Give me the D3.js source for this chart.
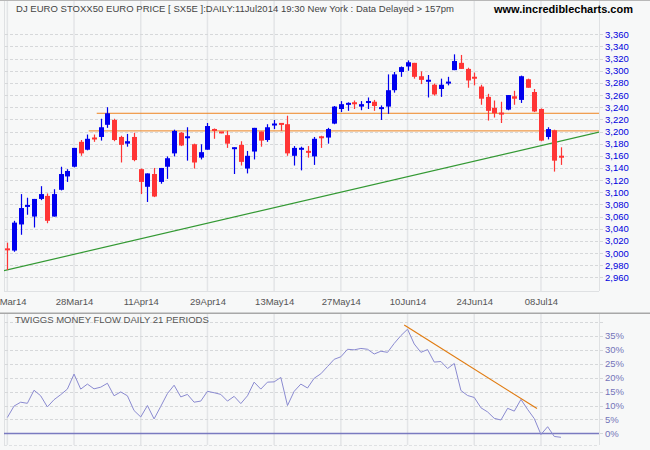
<!DOCTYPE html>
<html><head><meta charset="utf-8">
<script src="https://cdn.jsdelivr.net/npm/d3@7"></script>
<style>html,body{margin:0;padding:0;background:#f7f8f8;} svg{display:block;font-family:"Liberation Sans",Arial,sans-serif;}</style>
</head><body><svg id="c" width="650" height="450"></svg>
<script>
// ---- data ----
const dateLabels = ["14Mar14","28Mar14","11Apr14","29Apr14","13May14","27May14","10Jun14","24Jun14","08Jul14"];
const labelIdx = [0,10,20,30,40,50,60,70,80];
const priceTicks = d3.range(2960, 3361, 20);
const pctTicks = [0,5,10,15,20,25,30,35];
const pctGrid = [0,5,10,15,20,25,30,35,40];

const opens = [3007,3004,3047,3077,3060,3089,3094,3060,3104,3126,3142,3183,3170,3189,3191,3211,3219,3191,3180,3191,
3138,3109,3130,3117,3142,3164,3198,3190,3179,3157,3170,3203,3199,3194,3172,3178,3139,3167,3200,3186,
3211,3214,3212,3160,3171,3167,3159,3191,3190,3213,3237,3245,3247,3241,3248,3249,3238,3241,3268,3298,
3307,3313,3291,3283,3277,3270,3280,3301,3313,3303,3289,3274,3257,3239,3230,3236,3258,3252,3286,3265,
3237,3191,3202,3159];
const highs = [3017,3053,3097,3091,3089,3110,3098,3105,3142,3138,3173,3186,3195,3195,3221,3240,3221,3193,3196,3198,
3139,3131,3140,3140,3159,3203,3199,3207,3180,3179,3214,3205,3199,3201,3174,3184,3168,3206,3200,3212,
3219,3214,3226,3176,3175,3176,3191,3193,3206,3242,3250,3248,3251,3250,3256,3252,3243,3294,3298,3307,
3317,3313,3299,3293,3279,3287,3290,3327,3326,3305,3297,3277,3262,3251,3249,3260,3267,3292,3287,3270,
3238,3207,3203,3174];
const lows = [2972,3002,3030,3063,3042,3087,3049,3060,3103,3117,3141,3160,3169,3183,3185,3206,3184,3149,3175,3151,
3097,3084,3092,3114,3122,3159,3176,3152,3139,3154,3170,3188,3197,3173,3130,3144,3131,3154,3175,3183,
3204,3201,3160,3144,3136,3157,3145,3173,3180,3212,3232,3234,3237,3235,3237,3234,3219,3229,3264,3290,
3300,3287,3278,3256,3259,3257,3276,3301,3303,3272,3276,3244,3218,3223,3214,3235,3244,3247,3272,3232,
3184,3187,3134,3145];
const closes = [3005,3050,3074,3078,3089,3097,3053,3097,3130,3135,3173,3164,3188,3188,3207,3230,3186,3178,3184,3153,
3117,3131,3093,3140,3156,3201,3177,3191,3149,3166,3209,3202,3198,3180,3173,3150,3160,3206,3185,3207,
3212,3211,3164,3173,3172,3166,3188,3190,3204,3241,3245,3246,3246,3245,3249,3242,3239,3268,3294,3306,
3314,3290,3285,3284,3261,3277,3281,3316,3303,3284,3288,3254,3234,3230,3229,3260,3254,3291,3272,3233,
3185,3204,3152,3158];
const moneyFlow = [5.7,9.8,11.2,10.8,15.5,13.5,9.5,12.1,13.9,15.9,21.3,15.9,17.7,16,16.6,18,13.5,14.9,13.5,8.2,
5.9,10,5.2,9.7,14.3,17.3,13.1,14,11.2,11.6,15.1,14.6,14,11.6,13.3,10.7,13.5,18.4,15.9,18.4,
18.5,20.1,10,15.1,17.7,16.3,19.8,21.4,24,26.6,27.5,30.2,30,30.5,30.2,28.5,29.5,29.1,32.3,35.1,
37.4,32.1,29.1,30.1,25.6,25.8,23.3,25.1,15.4,13.6,12.9,9.2,7.7,5.4,4.8,9,8,12.2,8.6,5.3,
-0.4,2.4,-1.1,-1.4];
// annotation lines (data space)
const trendLine = [[-0.5, 2971], [88.7, 3199]];
const resistHigh = [[13.4, 3230], [88.7, 3230]];
const resistLow = [[12.2, 3201], [88.7, 3201]];
const mfTrend = [[59.5, 38.9], [79.4, 8.9]];

// ---- layout ----
const W = 650, H = 450;
const L = 4, R = 599;
const mainTop = 1, mainBot = 291;
const lowTop = 313.3, lowBot = 445;
const svg = d3.select("#c");
svg.append("rect").attr("width", W).attr("height", H).attr("fill", "#f7f8f8");

const x = d3.scaleLinear().domain([-0.5, 88.7]).range([L, R]);
const y = d3.scaleLinear().domain([2960, 3360]).range([277.3, 34.3]);
const y2 = d3.scaleLinear().domain([0, 35]).range([433.4, 335.9]);

// vertical gridlines
const vg = svg.append("g");
labelIdx.forEach(i => {
  vg.append("line").attr("x1", x(i)).attr("x2", x(i)).attr("y1", mainTop).attr("y2", mainBot)
    .attr("stroke", "#e3e5e7").attr("stroke-width", 1.5);
  vg.append("line").attr("x1", x(i)).attr("x2", x(i)).attr("y1", lowTop).attr("y2", lowBot)
    .attr("stroke", "#e3e5e7").attr("stroke-width", 1.5);
});
// borders
const bd = svg.append("g").attr("stroke", "#dfe1e3").attr("stroke-width", 1);
bd.append("line").attr("x1", L + 0.5).attr("x2", L + 0.5).attr("y1", mainTop).attr("y2", mainBot);
bd.append("line").attr("x1", R + 0.5).attr("x2", R + 0.5).attr("y1", mainTop).attr("y2", mainBot);
bd.append("line").attr("x1", L).attr("x2", R).attr("y1", mainBot + 0.5).attr("y2", mainBot + 0.5);
bd.append("line").attr("x1", L + 0.5).attr("x2", L + 0.5).attr("y1", lowTop).attr("y2", lowBot);
bd.append("line").attr("x1", R + 0.5).attr("x2", R + 0.5).attr("y1", lowTop).attr("y2", lowBot);
bd.append("line").attr("x1", L).attr("x2", R).attr("y1", lowBot + 0.5).attr("y2", lowBot + 0.5)
  .attr("stroke-dasharray", "3,2");
svg.append("line").attr("x1", 0).attr("x2", W).attr("y1", 0.5).attr("y2", 0.5).attr("stroke", "#b8b8b8");
svg.append("line").attr("x1", 0).attr("x2", W).attr("y1", lowTop).attr("y2", lowTop)
  .attr("stroke", "#a8a8a8").attr("stroke-width", 1.5);

// price axis (right) with gridlines
const yAxis = d3.axisRight(y).tickValues(priceTicks).tickFormat(d3.format(",")).tickSize(-(603 - L)).tickPadding(2);
const ya = svg.append("g").attr("transform", "translate(603,0)").call(yAxis);
ya.select(".domain").remove();
ya.selectAll("line").attr("stroke", "#d6d8da").attr("stroke-dasharray", "3,2").attr("shape-rendering", "crispEdges");
ya.selectAll("text").attr("fill", "#0000dd").attr("font-size", "9.5px")
  .attr("font-family", "'Liberation Sans',Arial,sans-serif");

// date axis
const xAxis = d3.axisBottom(x).tickValues(labelIdx).tickFormat((d, i) => dateLabels[i]).tickSize(0).tickPadding(7);
const xa = svg.append("g").attr("transform", `translate(0,${mainBot})`).call(xAxis);
xa.select(".domain").remove();
xa.selectAll("text").attr("fill", "#555").attr("font-size", "9.5px")
  .attr("font-family", "'Liberation Sans',Arial,sans-serif");

// percent axis
const y2Axis = d3.axisRight(y2).tickValues(pctGrid).tickFormat(d => d === 40 ? "" : d + "%").tickSize(-(603 - L)).tickPadding(2);
const pa = svg.append("g").attr("transform", "translate(603,0)").call(y2Axis);
pa.select(".domain").remove();
pa.selectAll("line").attr("stroke", "#d6d8da").attr("stroke-dasharray", "3,2").attr("shape-rendering", "crispEdges");
pa.selectAll("text").attr("fill", "#7474b8").attr("font-size", "9.5px")
  .attr("font-family", "'Liberation Sans',Arial,sans-serif");

// clip for main
svg.append("clipPath").attr("id", "clipMain").append("rect").attr("x", L).attr("y", mainTop).attr("width", R - L).attr("height", mainBot - mainTop);
svg.append("clipPath").attr("id", "clipLow").append("rect").attr("x", L).attr("y", lowTop).attr("width", R - L).attr("height", lowBot - lowTop);

const line = d3.line().x(d => x(d[0])).y(d => y(d[1]));
const main = svg.append("g").attr("clip-path", "url(#clipMain)");
main.append("path").attr("d", line(resistHigh)).attr("stroke", "#ee8420").attr("stroke-width", 1).attr("fill", "none");
main.append("path").attr("d", line(resistLow)).attr("stroke", "#ee8420").attr("stroke-width", 1).attr("fill", "none");
main.append("path").attr("d", line(trendLine)).attr("stroke", "#339933").attr("stroke-width", 1.2).attr("fill", "none");

// candles
const bars = opens.map((o, i) => ({ i, o, h: highs[i], l: lows[i], c: closes[i] }));
const col = d => d.c >= d.o ? "#0000ee" : "#ff3535";
const cg = main.append("g");
cg.selectAll("line.wick").data(bars).join("line")
  .attr("x1", d => Math.round(x(d.i)) + 0.5).attr("x2", d => Math.round(x(d.i)) + 0.5)
  .attr("y1", d => y(d.h)).attr("y2", d => y(d.l))
  .attr("stroke", col).attr("stroke-width", 1.2);
cg.selectAll("rect.body").data(bars).join("rect")
  .attr("x", d => Math.round(x(d.i)) - 2)
  .attr("width", 5)
  .attr("y", d => { const a = y(Math.max(d.o, d.c)), b = y(Math.min(d.o, d.c)); return (b - a < 2) ? (a + b) / 2 - 1 : a; })
  .attr("height", d => Math.max(2, Math.abs(y(d.o) - y(d.c))))
  .attr("fill", col);

// header texts
svg.append("text").attr("x", 16).attr("y", 12).attr("font-size", "9.5px").attr("fill", "#444")
  .attr("textLength", 438).attr("lengthAdjust", "spacing")
  .text("DJ EURO STOXX50 EURO PRICE [ SX5E ]:DAILY:11Jul2014 19:30 New York : Data Delayed > 157pm");
svg.append("text").attr("x", 494).attr("y", 12.5).attr("font-size", "11px").attr("font-weight", "bold").attr("fill", "#000")
  .text("www.incrediblecharts.com");

// lower panel
svg.append("text").attr("x", 15).attr("y", 322.5).attr("font-size", "9.5px").attr("fill", "#555")
  .text("TWIGGS MONEY FLOW DAILY 21 PERIODS");
svg.append("line").attr("x1", L).attr("x2", R).attr("y1", y2(0)).attr("y2", y2(0))
  .attr("stroke", "#7a7ac0").attr("stroke-width", 1.5);
const low = svg.append("g").attr("clip-path", "url(#clipLow)");
const line2 = d3.line().x((d, i) => x(i)).y(d => y2(d));
low.append("path").attr("d", line2(moneyFlow)).attr("stroke", "#8a8ad0").attr("stroke-width", 1).attr("fill", "none");
const line3 = d3.line().x(d => x(d[0])).y(d => y2(d[1]));
low.append("path").attr("d", line3(mfTrend)).attr("stroke", "#e07b10").attr("stroke-width", 1.2).attr("fill", "none");
</script></body></html>
